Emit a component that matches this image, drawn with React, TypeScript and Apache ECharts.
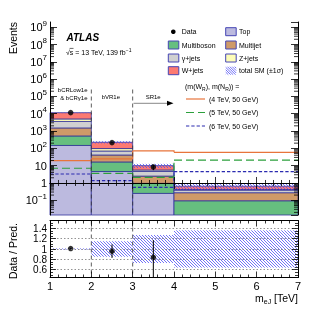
import React, { useEffect, useRef } from 'react';
import * as echarts from 'echarts';

// ---------- data ----------
const binEdges: number[][] = [[1, 2], [2, 3], [3, 4], [4, 7]];
const bkgNames = ['Top', 'Multiboson', 'Multijet', 'γ+jets', 'Z+jets', 'W+jets'];
const topBkg = [147, 4.6, 0.25, 0.004];
const multiboson = [373, 11.8, 0.7, 0.09];
const multijet = [990, 25, 1.55, 0.18];
const gammaJets = [2060, 29, 2.1, 0.115];
const zJets = [1430, 27, 1.0, 0.03];
const wJets = [6500, 127, 4.4, 0.23];
const totalErrRel = [0.012, 0.15, 0.27, 0.36];

const dataX = [1.5, 2.5, 3.5];
const dataY = [11600, 215, 8.4];
const dataErr = [108, 15, 2.9];
const ratioErrUp = [0.01, 0.13, 0.33];
const ratioErrDown = [0.01, 0.13, 0.5];

const sigNames = ['(4 TeV, 50 GeV)', '(5 TeV, 50 GeV)', '(6 TeV, 50 GeV)'];
const sig4 = [19.5, 25, 71, 59];
const sig5 = [7.1, 3.6, 2.1, 21];
const sig6 = [3.3, 1.36, 0.56, 4.5];

const dividers = [2, 3];
const regionNames = ['bCRLow1e', '& bCRγ1e', 'bVR1e', 'SR1e'];

// ---------- style ----------
const FONT = '"Liberation Sans", Arial, Helvetica, sans-serif';
const bkgColors = ['#bcbadf', '#66bf7f', '#cf9a68', '#d0d0d0', '#fdfdb8', '#fc7a72'];
const EDGE = '#34349c';
const HATCH = '#4f4ff5';
const sigColors = ['#e8743b', '#2ca03c', '#2b2bb0'];
const sigDash: any[] = [null, [8, 4], [3.3, 2]];
const LOG_MIN = -1.85;
const LOG_MAX = 9.3;
const R_MIN = 0.45;
const R_MAX = 1.55;

function clampLog(v: number) {
  if (v <= 0) return LOG_MIN;
  return Math.min(LOG_MAX, Math.max(LOG_MIN, Math.log10(v)));
}

function hatchLines(x: number, y: number, w: number, h: number, s: number) {
  const out: any[] = [];
  const cMin = x - (y + h);
  const cMax = x + w - y;
  const k0 = Math.ceil(cMin / s);
  const k1 = Math.floor(cMax / s);
  for (let k = k0; k <= k1; k++) {
    const c = k * s;
    const xs = Math.max(x, y + c);
    const xe = Math.min(x + w, y + h + c);
    if (xe > xs) out.push({ x1: xs, y1: xs - c, x2: xe, y2: xe - c });
  }
  return out;
}

function buildOption() {
  const comps = [topBkg, multiboson, multijet, gammaJets, zJets, wJets];
  const cum: number[][] = [binEdges.map(() => 0)];
  comps.forEach((c, k) => cum.push(c.map((v, i) => cum[k][i] + v)));
  const total = cum[comps.length];

  const rectRender = (fill: string) => (params: any, api: any) => {
    const p0 = api.coord([api.value(0), api.value(3)]);
    const p1 = api.coord([api.value(1), api.value(2)]);
    const h = p1[1] - p0[1];
    if (h < 0.05) return null;
    return {
      type: 'rect',
      shape: { x: p0[0], y: p0[1], width: p1[0] - p0[0], height: h },
      style: { fill, stroke: EDGE, lineWidth: 0.8 },
    };
  };

  const hatchRender = (params: any, api: any) => {
    const p0 = api.coord([api.value(0), api.value(3)]);
    const p1 = api.coord([api.value(1), api.value(2)]);
    const lines = hatchLines(p0[0], p0[1], p1[0] - p0[0], Math.max(0.6, p1[1] - p0[1]), 3);
    return {
      type: 'group',
      children: lines.map((l) => ({ type: 'line', shape: l, style: { stroke: HATCH, lineWidth: 0.8 } })),
    };
  };

  const series: any[] = [];

  bkgNames.forEach((name, si) => {
    series.push({
      type: 'custom',
      name,
      xAxisIndex: 0,
      yAxisIndex: 0,
      z: 2,
      silent: true,
      encode: { x: [0, 1], y: [2, 3] },
      data: binEdges.map((b, i) => [b[0], b[1], clampLog(cum[si][i]), clampLog(cum[si + 1][i])]),
      renderItem: rectRender(bkgColors[si]),
    });
  });

  // total SM uncertainty (main)
  series.push({
    type: 'custom',
    name: 'total SM (±1σ)',
    xAxisIndex: 0,
    yAxisIndex: 0,
    z: 3,
    silent: true,
    encode: { x: [0, 1], y: [2, 3] },
    data: binEdges.map((b, i) => [b[0], b[1], clampLog(total[i] * (1 - totalErrRel[i])), clampLog(total[i] * (1 + totalErrRel[i]))]),
    renderItem: hatchRender,
  });

  // signals
  [sig4, sig5, sig6].forEach((vals, si) => {
    series.push({
      type: 'custom',
      name: sigNames[si],
      xAxisIndex: 0,
      yAxisIndex: 0,
      z: 4,
      silent: true,
      encode: { x: [0, 1], y: [2, 3] },
      data: binEdges.map((b, i) => [b[0], b[1], clampLog(vals[i]), clampLog(vals[Math.min(i + 1, vals.length - 1)])]),
      renderItem: (params: any, api: any) => {
        const a = api.coord([api.value(0), api.value(2)]);
        const b = api.coord([api.value(1), api.value(2)]);
        const c = api.coord([api.value(1), api.value(3)]);
        return {
          type: 'polyline',
          shape: { points: [a, b, c] },
          style: { stroke: sigColors[si], lineWidth: 1.2, fill: null, lineDash: sigDash[si] },
        };
      },
    });
  });

  const vlineRender = (params: any, api: any) => {
    const a = api.coord([api.value(0), api.value(1)]);
    const b = api.coord([api.value(0), api.value(2)]);
    return {
      type: 'line',
      shape: { x1: a[0], y1: a[1], x2: b[0], y2: b[1] },
      style: { stroke: '#333', lineWidth: 0.8, lineDash: [4, 3] },
    };
  };
  // region dividers
  series.push({
    type: 'custom', xAxisIndex: 0, yAxisIndex: 0, z: 5, silent: true,
    encode: { x: 0, y: [1, 2] },
    data: dividers.map((x) => [x, 5.4, LOG_MIN]),
    renderItem: vlineRender,
  });
  series.push({
    type: 'custom', xAxisIndex: 2, yAxisIndex: 2, z: 5, silent: true,
    encode: { x: 0, y: [1, 2] },
    data: dividers.map((x) => [x, R_MAX, R_MIN]),
    renderItem: vlineRender,
  });

  const errRender = (params: any, api: any) => {
    const a = api.coord([api.value(0), api.value(1)]);
    const b = api.coord([api.value(0), api.value(2)]);
    return {
      type: 'line',
      shape: { x1: a[0], y1: a[1], x2: b[0], y2: b[1] },
      style: { stroke: '#000', lineWidth: 1 },
    };
  };

  // data error bars main
  series.push({
    type: 'custom', xAxisIndex: 0, yAxisIndex: 0, z: 6, silent: true,
    encode: { x: 0, y: [1, 2] },
    data: dataX.map((x, i) => [x, clampLog(dataY[i] - dataErr[i]), clampLog(dataY[i] + dataErr[i])]),
    renderItem: errRender,
  });
  series.push({
    type: 'scatter', name: 'Data', xAxisIndex: 0, yAxisIndex: 0, z: 7, silent: true,
    symbol: 'circle', symbolSize: 5.5, itemStyle: { color: '#000' },
    data: dataX.map((x, i) => [x, Math.log10(dataY[i])]),
  });

  // log minor ticks (main panel, both sides)
  const minorVals: number[] = [];
  for (let n = -2; n <= 9; n++) {
    for (let m = 2; m <= 9; m++) {
      const v = n + Math.log10(m);
      if (v > LOG_MIN && v < LOG_MAX) minorVals.push(v);
    }
  }
  series.push({
    type: 'custom', xAxisIndex: 0, yAxisIndex: 0, z: 20, silent: true,
    encode: { x: 0, y: 1 },
    data: minorVals.map((v) => [1, v]),
    renderItem: (params: any, api: any) => {
      const l = api.coord([1, api.value(1)]);
      const r = api.coord([7, api.value(1)]);
      return {
        type: 'group',
        children: [
          { type: 'line', shape: { x1: l[0], y1: l[1], x2: l[0] + 4, y2: l[1] }, style: { stroke: '#000', lineWidth: 0.8 } },
          { type: 'line', shape: { x1: r[0], y1: r[1], x2: r[0] - 4, y2: r[1] }, style: { stroke: '#000', lineWidth: 0.8 } },
        ],
      };
    },
  });

  // ratio panel
  series.push({
    type: 'custom', xAxisIndex: 2, yAxisIndex: 2, z: 3, silent: true,
    encode: { x: [0, 1], y: [2, 3] },
    data: binEdges.map((b, i) => [b[0], b[1], 1 - totalErrRel[i], 1 + totalErrRel[i]]),
    renderItem: hatchRender,
  });
  const ratio = dataY.map((v, i) => v / total[i]);
  series.push({
    type: 'custom', xAxisIndex: 2, yAxisIndex: 2, z: 6, silent: true,
    encode: { x: 0, y: [1, 2] },
    data: dataX.map((x, i) => [x, Math.max(R_MIN, ratio[i] - ratioErrDown[i]), Math.min(R_MAX, ratio[i] + ratioErrUp[i])]),
    renderItem: errRender,
  });
  series.push({
    type: 'scatter', xAxisIndex: 2, yAxisIndex: 2, z: 7, silent: true,
    symbol: 'circle', symbolSize: 5.5, itemStyle: { color: '#000' },
    data: dataX.map((x, i) => [x, ratio[i]]),
  });

  const xBase = (gridIndex: number, position: string, labels: boolean) => ({
    type: 'value', gridIndex, position, min: 1, max: 7, interval: 1, z: 10,
    axisLine: { show: true, lineStyle: { color: '#000', width: 1 } },
    axisTick: { show: true, inside: true, length: 6, lineStyle: { color: '#000', width: 0.8 } },
    minorTick: { show: true, splitNumber: 5, length: 3, lineStyle: { color: '#000', width: 0.8 } },
    splitLine: { show: false },
    axisLabel: { show: labels, color: '#000', fontSize: 11, fontFamily: FONT, margin: 3 },
  });

  const yMain = (position: string, labels: boolean) => ({
    type: 'value', gridIndex: 0, position, min: LOG_MIN, max: LOG_MAX, splitNumber: 11, z: 10,
    axisLine: { show: true, lineStyle: { color: '#000', width: 1 } },
    axisTick: { show: true, inside: true, length: 7, lineStyle: { color: '#000', width: 0.8 } },
    splitLine: { show: false },
    axisLabel: {
      show: labels, showMinLabel: false, showMaxLabel: false, margin: 3, align: 'right',
      formatter: (v: number) => {
        const k = Math.round(v);
        if (Math.abs(v - k) > 1e-6) return '';
        if (k === 0) return '{b|1}';
        if (k === 1) return '{b|10}';
        return '{b|10}{sup|' + (k < 0 ? '−' + -k : String(k)) + '}';
      },
      rich: {
        b: { fontSize: 11, lineHeight: 16, fontFamily: FONT, color: '#000' },
        sup: { fontSize: 8, lineHeight: 9, verticalAlign: 'top', fontFamily: FONT, color: '#000' },
      },
    },
  });

  const yRatio = (position: string, labels: boolean) => ({
    type: 'value', gridIndex: 1, position, min: R_MIN, max: R_MAX, splitNumber: 5, z: 10,
    axisLine: { show: true, lineStyle: { color: '#000', width: 1 } },
    axisTick: { show: true, inside: true, length: 6, lineStyle: { color: '#000', width: 0.8 } },
    minorTick: { show: true, splitNumber: 4, length: 3, lineStyle: { color: '#000', width: 0.8 } },
    splitLine: labels
      ? { show: true, showMinLine: false, showMaxLine: false, lineStyle: { color: '#777', width: 0.8, type: [1.5, 2] } }
      : { show: false },
    axisLabel: {
      show: labels, showMinLabel: false, showMaxLabel: false, color: '#000',
      fontSize: 10, lineHeight: 10, fontFamily: FONT, margin: 3,
    },
  });

  // ---------- graphic: texts & legend ----------
  const g: any[] = [];
  const txt = (x: number, y: number, text: string, size: number, extra: any = {}) => ({
    type: 'text', x, y, silent: true, z: 50,
    style: { text, fontSize: size, fontFamily: FONT, fill: '#000', align: 'left', verticalAlign: 'middle', ...extra },
  });

  g.push({ ...txt(12.5, 22, 'Events', 10.5, { align: 'right' }), rotation: Math.PI / 2 });
  g.push({ ...txt(12.5, 251, 'Data / Pred.', 10.5, { align: 'center' }), rotation: Math.PI / 2 });
  g.push(txt(298, 298, 'm{sub|eJ} [TeV]', 10.5, {
    align: 'right', lineHeight: 14,
    rich: { sub: { fontSize: 7, lineHeight: 8, verticalAlign: 'bottom', fontFamily: FONT, fill: '#000' } },
  }));

  g.push(txt(66.5, 37.3, 'ATLAS', 10, { fontWeight: 'bold', fontStyle: 'italic' }));
  g.push(txt(66, 52.3, '√s = 13 TeV, 139 fb{sup|−1}', 7, {
    lineHeight: 10,
    rich: { sup: { fontSize: 5, lineHeight: 6, verticalAlign: 'top', fontFamily: FONT, fill: '#000' } },
  }));
  g.push({ type: 'line', silent: true, z: 50, shape: { x1: 69.6, y1: 48.4, x2: 73.5, y2: 48.4 }, style: { stroke: '#000', lineWidth: 0.6 } });

  // region labels
  g.push(txt(87.5, 90, regionNames[0], 6, { align: 'right' }));
  g.push(txt(87.5, 98.3, regionNames[1], 6, { align: 'right' }));
  g.push(txt(101.7, 96.5, regionNames[2], 6));
  g.push(txt(145.7, 96.5, regionNames[3], 6));
  g.push({ type: 'line', silent: true, z: 50, shape: { x1: 133.5, y1: 103.3, x2: 169, y2: 103.3 }, style: { stroke: '#888', lineWidth: 1 } });
  g.push({ type: 'polygon', silent: true, z: 50, shape: { points: [[167, 100.8], [173.5, 103.3], [167, 105.8]] }, style: { fill: '#000' } });

  // legend (two columns)
  const rowsY = [31.7, 45, 58, 70.7];
  const col1 = ['Data', 'Multiboson', 'γ+jets', 'W+jets'];
  const col2 = ['Top', 'Multijet', 'Z+jets', 'total SM (±1σ)'];
  const addEntry = (name: string, bx: number, tx: number, y: number) => {
    if (name === 'Data') {
      g.push({ type: 'circle', silent: true, z: 50, shape: { cx: bx + 5, cy: y, r: 2.3 }, style: { fill: '#000' } });
    } else if (name.startsWith('total SM')) {
      hatchLines(bx, y - 4, 10.5, 8, 2.4).forEach((l) =>
        g.push({ type: 'line', silent: true, z: 50, shape: l, style: { stroke: HATCH, lineWidth: 0.8 } }));
    } else {
      const ci = bkgNames.indexOf(name);
      g.push({ type: 'rect', silent: true, z: 50, shape: { x: bx, y: y - 4, width: 10.5, height: 8 }, style: { fill: bkgColors[ci], stroke: '#4646b4', lineWidth: 1 } });
    }
    g.push(txt(tx, y, name, 7));
  };
  col1.forEach((n, i) => addEntry(n, 168.3, 181.7, rowsY[i]));
  col2.forEach((n, i) => addEntry(n, 225.7, 239, rowsY[i]));

  g.push(txt(185, 86, '(m(W{sub|R}), m(N{sub|R})) =', 7, {
    lineHeight: 10,
    rich: { sub: { fontSize: 5, lineHeight: 6, verticalAlign: 'bottom', fontFamily: FONT, fill: '#000' } },
  }));
  const sigRows = [99, 112.5, 126];
  sigNames.forEach((n, i) => {
    g.push({ type: 'line', silent: true, z: 50, shape: { x1: 186, y1: sigRows[i], x2: 205, y2: sigRows[i] }, style: { stroke: sigColors[i], lineWidth: 1.2, lineDash: sigDash[i] } });
    g.push(txt(209, sigRows[i], n, 7));
  });

  return {
    animation: false,
    textStyle: { fontFamily: FONT },
    grid: [
      { left: 50, top: 22, width: 248, height: 193, show: false },
      { left: 50, top: 220.5, width: 248, height: 57, show: false },
    ],
    xAxis: [xBase(0, 'bottom', false), xBase(0, 'top', false), xBase(1, 'bottom', true), xBase(1, 'top', false)],
    yAxis: [yMain('left', true), yMain('right', false), yRatio('left', true), yRatio('right', false)],
    series,
    graphic: g,
  };
}

export default function App() {
  const ref = useRef<HTMLDivElement>(null);
  useEffect(() => {
    const chart = echarts.init(ref.current!, null, { renderer: 'svg' });
    chart.setOption(buildOption() as any);
    return () => chart.dispose();
  }, []);
  return <div ref={ref} style={{ position: 'fixed', left: 0, top: 0, width: 332, height: 316 }} />;
}
